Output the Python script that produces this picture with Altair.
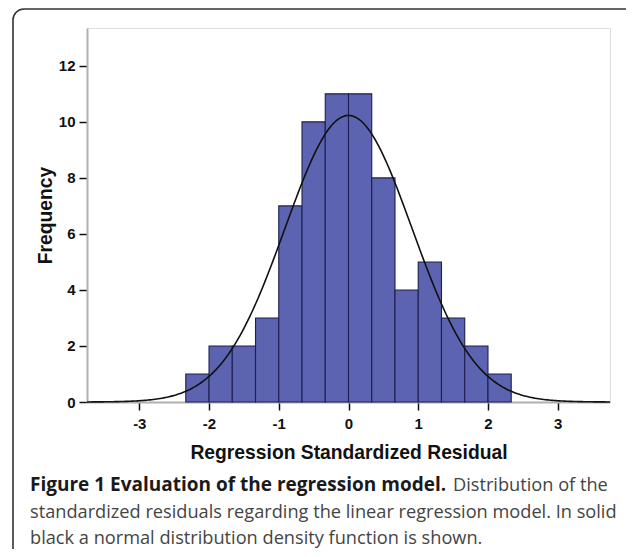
import altair as alt
import numpy as np
import pandas as pd

# histogram data: left bin edges (width 1/3) and counts
bin_left = [-7/3, -6/3, -5/3, -4/3, -3/3, -2/3, -1/3, 0/3, 1/3, 2/3, 3/3, 4/3, 5/3, 6/3]
counts = [1, 2, 2, 3, 7, 10, 11, 11, 8, 4, 5, 3, 2, 1]
bin_width = 1/3

# normal curve parameters
curve_mean = 0.0
curve_sd = 0.91
n_total = sum(counts)

x_ticks = [-3, -2, -1, 0, 1, 2, 3]
y_ticks = [0, 2, 4, 6, 8, 10, 12]

caption_bold = "Figure 1 Evaluation of the regression model."
caption_lines = [
    "Distribution of the",
    "standardized residuals regarding the linear regression model. In solid",
    "black a normal distribution density function is shown.",
]

XDOM = [-3.75, 3.75]
YDOM = [0, 13.35]

hist = pd.DataFrame({
    "x": bin_left,
    "x2": [b + bin_width for b in bin_left],
    "count": counts,
})

xs = np.linspace(XDOM[0], XDOM[1], 301)
curve = pd.DataFrame({
    "x": xs,
    "y": n_total * bin_width * np.exp(-0.5 * ((xs - curve_mean) / curve_sd) ** 2) / (curve_sd * np.sqrt(2 * np.pi)),
})

AX = "Liberation Sans"
xscale = alt.Scale(domain=XDOM, nice=False, zero=False)
yscale = alt.Scale(domain=YDOM, nice=False)

bars = alt.Chart(hist).mark_rect(
    color="#5c63b1", stroke="#1e1f4e", strokeWidth=1.1
).encode(
    x=alt.X("x:Q", scale=xscale, axis=alt.Axis(
        values=x_ticks, labelExpr="datum.value + ''", title="Regression Standardized Residual",
        grid=False, domainColor="#b0b0b0", domainWidth=2, tickColor="#111", tickWidth=1.5,
        tickSize=8, labelPadding=6, labelFont=AX, labelFontWeight="bold", labelFontSize=15,
        labelColor="#111", titleFont=AX, titleFontWeight="bold", titleFontSize=19.3,
        titleColor="#111", titleY=50, titleBaseline="middle")),
    x2="x2:Q",
    y=alt.Y("count:Q", scale=yscale, axis=alt.Axis(
        values=y_ticks, title="Frequency", grid=False, domainColor="#b0b0b0", domainWidth=2,
        tickColor="#111", tickWidth=1.5, tickSize=8, labelPadding=4, labelFont=AX,
        labelFontWeight="bold", labelFontSize=15, labelColor="#111", titleFont=AX,
        titleFontWeight="bold", titleFontSize=19.3, titleColor="#111", titleX=-42,
        titleY=187, titleAngle=-90, titleBaseline="middle", titleAlign="center")),
    y2=alt.datum(0),
)

line = alt.Chart(curve).mark_line(color="#111", strokeWidth=1.6).encode(
    x=alt.X("x:Q", scale=xscale),
    y=alt.Y("y:Q", scale=yscale),
)

one = pd.DataFrame({"a": [0]})
frame = alt.Chart(one).mark_rect(
    filled=False, color="#333", strokeWidth=1.6, cornerRadius=11
).encode(x=alt.value(-74), x2=alt.value(549), y=alt.value(-19), y2=alt.value(535))

CF = "Open Sans"
CS = 18.2
t_bold = alt.Chart(one).mark_text(
    font=CF, fontSize=19, fontWeight="bold", color="#1a1a1a", align="left", baseline="alphabetic"
).encode(x=alt.value(-57), y=alt.value(463), text=alt.value(caption_bold))
t1 = alt.Chart(one).mark_text(
    font=CF, fontSize=CS, color="#444", align="left", baseline="alphabetic"
).encode(x=alt.value(366), y=alt.value(463), text=alt.value(caption_lines[0]))
t2 = alt.Chart(one).mark_text(
    font=CF, fontSize=CS, color="#444", align="left", baseline="alphabetic"
).encode(x=alt.value(-57), y=alt.value(489.5), text=alt.value(caption_lines[1]))
t3 = alt.Chart(one).mark_text(
    font=CF, fontSize=CS, color="#444", align="left", baseline="alphabetic"
).encode(x=alt.value(-57), y=alt.value(516), text=alt.value(caption_lines[2]))

chart = alt.layer(frame, bars, line, t_bold, t1, t2, t3).properties(
    width=523, height=374,
    autosize=alt.AutoSizeParams(type="none"),
    padding={"left": 79, "top": 20, "right": 16, "bottom": 147},
).configure_view(stroke=None).configure(background="white")

chart.save("out.html", embed_options={"renderer": "svg", "actions": False})
